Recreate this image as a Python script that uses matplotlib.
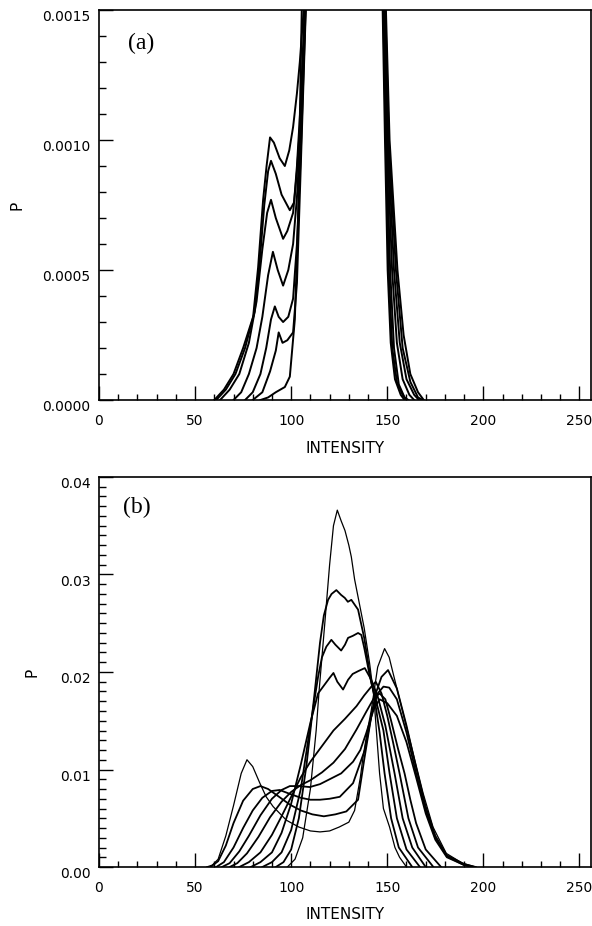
import matplotlib
matplotlib.use('Agg')
import matplotlib.pyplot as plt
from matplotlib.ticker import MultipleLocator, FormatStrFormatter
from matplotlib.transforms import ScaledTranslation

# ---- panel (a): low-probability detail, curves leave the top of the frame ----
a1_x = [60, 65, 70, 75, 80.2, 82.8, 85.4, 87.2, 89, 91, 94, 96.7, 99, 101, 103, 104.5, 106.5, 108,
        146.5, 147.6, 148.8, 150.2, 151.8, 154, 157, 159]
a1_p = [0, 0.00004, 0.0001, 0.0002, 0.00032, 0.00051, 0.00077, 0.0009, 0.00101, 0.00099, 0.00093, 0.0009,
        0.00096, 0.00105, 0.00118, 0.0013, 0.0015, 0.002,
        0.002, 0.0015, 0.001, 0.0005, 0.00022, 0.00008, 0.00002, 0]
a2_x = [61, 66, 71, 76, 81, 83.5, 86, 88, 89.5, 92, 95, 99.3, 101.5, 103, 105, 107, 108.5,
        146.8, 147.9, 149.2, 150.8, 152.6, 155, 158, 160]
a2_p = [0, 0.00004, 0.0001, 0.0002, 0.00034, 0.00052, 0.00075, 0.00088, 0.00092, 0.00087, 0.00079, 0.00073,
        0.00076, 0.0009, 0.00115, 0.0015, 0.002,
        0.002, 0.0015, 0.001, 0.0005, 0.0002, 0.00007, 0.00002, 0]
a3_x = [63, 68, 73, 78, 82, 85, 87.5, 89.5, 92, 95.8, 98, 101, 103, 105, 107.2, 108.5,
        147, 148.2, 149.6, 151.5, 153.5, 156, 159, 161]
a3_p = [0, 0.00004, 0.0001, 0.00022, 0.00038, 0.00058, 0.00072, 0.00077, 0.0007, 0.00062, 0.00065, 0.00072,
        0.00088, 0.0011, 0.0015, 0.002,
        0.002, 0.0015, 0.001, 0.0005, 0.0002, 0.00006, 0.00001, 0]
a4_x = [70, 74, 78, 82, 85, 88, 90.5, 93, 95.8, 98.5, 101, 103, 105, 107.4, 108.5,
        147.2, 148.5, 150, 152.5, 155, 158, 161.5, 164]
a4_p = [0, 0.00003, 0.0001, 0.0002, 0.00032, 0.00048, 0.00057, 0.0005, 0.00044, 0.0005, 0.0006, 0.00078,
        0.00105, 0.0015, 0.002,
        0.002, 0.0015, 0.001, 0.0005, 0.00022, 0.00008, 0.00002, 0]
a5_x = [76, 80, 84, 87, 89.5, 91.5, 93.5, 95.8, 98.5, 101, 103, 105, 107.5, 108.5,
        147.5, 148.8, 150.4, 153.5, 156.5, 160, 164, 166.5]
a5_p = [0, 0.00003, 0.0001, 0.0002, 0.00031, 0.00036, 0.00032, 0.0003, 0.00032, 0.00039, 0.0006, 0.00095,
        0.0015, 0.002,
        0.002, 0.0015, 0.001, 0.0005, 0.00022, 0.00008, 0.00002, 0]
a6_x = [80, 85, 89, 92, 93.5, 95.5, 98, 101, 103, 105, 107.6, 108.6,
        147.8, 149, 150.8, 154.5, 158, 162, 166, 168.5]
a6_p = [0, 0.00003, 0.00011, 0.00019, 0.00026, 0.00022, 0.00023, 0.00026, 0.00045, 0.0009, 0.0015, 0.002,
        0.002, 0.0015, 0.001, 0.0005, 0.0002, 0.00007, 0.00001, 0]
a7_x = [84, 88, 92, 96.7, 99.3, 101.9, 103.6, 104.5, 105.5, 106.5,
        148, 149.3, 151.2, 155.3, 158.5, 162, 166, 169]
a7_p = [0, 0.00001, 0.00003, 0.00005, 0.00009, 0.00031, 0.00069, 0.00108, 0.0015, 0.002,
        0.002, 0.0015, 0.001, 0.0005, 0.00025, 0.0001, 0.00003, 0]

# ---- panel (b): full histograms ----
b1_x = [56, 59, 62, 66, 70, 74, 77, 80, 83.7, 87, 90.6, 97.5, 104, 110, 115, 120, 125, 130, 133, 136,
        137.4, 139.5, 141.7, 145, 148.6, 151, 153, 158.2, 163.4, 168.6, 173.8, 180.7, 189, 196]
b1_p = [0, 0.0002, 0.0008, 0.0032, 0.0063, 0.0096, 0.011, 0.0103, 0.0086, 0.0072, 0.0062, 0.0048, 0.0041,
        0.0037, 0.0036, 0.0037, 0.0041, 0.0046, 0.0058, 0.0092, 0.0113, 0.0138, 0.0161, 0.0205, 0.0224,
        0.0215, 0.0199, 0.0158, 0.0117, 0.0076, 0.0041, 0.0014, 0.0004, 0]
b2_x = [58, 62, 66, 70, 75, 80, 84, 88, 93, 99.3, 105, 111, 117, 123, 128.7, 134.8, 138, 141.7, 144, 147,
        150.4, 155, 160, 165, 170, 175, 181, 190, 196]
b2_p = [0, 0.0006, 0.0022, 0.0045, 0.0068, 0.008, 0.0083, 0.008, 0.0073, 0.0064, 0.0058, 0.0054, 0.0052,
        0.0054, 0.0057, 0.0069, 0.011, 0.0155, 0.0178, 0.0195, 0.0202, 0.0183, 0.0145, 0.0102, 0.0062,
        0.0032, 0.0012, 0.0003, 0]
b3_x = [61, 65, 70, 75, 80, 85, 90, 94, 99.3, 105, 110, 115, 120, 125.3, 132.2, 138.3, 142, 145, 148, 151,
        155, 160, 165, 170, 175, 181, 190, 195]
b3_p = [0, 0.0005, 0.002, 0.004, 0.0058, 0.0071, 0.0078, 0.0079, 0.0075, 0.0071, 0.0069, 0.0069, 0.007,
        0.0072, 0.0086, 0.012, 0.0158, 0.0178, 0.0185, 0.0184, 0.0172, 0.0138, 0.0096, 0.0058, 0.003,
        0.0011, 0.0002, 0]
b4_x = [64, 68, 73, 78, 84, 90, 95, 99.3, 104, 109.7, 115, 121, 126, 132.2, 136, 139, 143, 146, 150, 155,
        160, 165, 170, 175, 181, 190, 194]
b4_p = [0, 0.0004, 0.0016, 0.0032, 0.0053, 0.007, 0.0079, 0.0083, 0.0083, 0.0082, 0.0085, 0.0091, 0.0096,
        0.0108, 0.012, 0.0137, 0.0162, 0.0172, 0.0168, 0.0155, 0.0128, 0.0092, 0.0055, 0.0028, 0.001,
        0.0002, 0]
b5_x = [68, 72, 77, 83, 89, 95, 100, 105, 110, 116, 122, 128, 134, 139, 143, 146, 149, 152, 155.5, 159,
        162, 165, 170, 178]
b5_p = [0, 0.0004, 0.0014, 0.0031, 0.0051, 0.0067, 0.0077, 0.0084, 0.0089, 0.0097, 0.0107, 0.0121, 0.0141,
        0.0159, 0.0173, 0.0178, 0.0172, 0.015, 0.0122, 0.0096, 0.0069, 0.0045, 0.0018, 0]
b6_x = [73, 78, 84, 90, 95, 100, 105, 110, 116, 122, 128, 134, 138, 141.7, 144, 147, 150, 153, 156.4, 159,
        161, 166, 174]
b6_p = [0, 0.0005, 0.0015, 0.0033, 0.0052, 0.0072, 0.0092, 0.0108, 0.0124, 0.014, 0.0152, 0.0165, 0.0176,
        0.0185, 0.019, 0.0178, 0.0155, 0.0128, 0.0096, 0.007, 0.005, 0.002, 0]
b7_x = [79, 84, 90, 95, 100, 105, 110, 114, 117, 120, 122, 124, 127, 129.6, 132, 135, 138.3, 141.7, 145,
        149, 153.8, 158, 163, 170]
b7_p = [0, 0.0005, 0.0015, 0.0035, 0.0065, 0.0105, 0.0148, 0.0178, 0.0186, 0.0194, 0.0199, 0.019, 0.0182,
        0.0192, 0.0198, 0.0201, 0.0204, 0.0192, 0.0175, 0.0145, 0.0096, 0.005, 0.002, 0]
b8_x = [85, 90, 95, 100, 105, 110, 114, 116, 118.3, 120.9, 123, 126, 128, 129.6, 132, 134.8, 136.5, 138,
        141, 144, 148, 151.2, 155, 160, 167]
b8_p = [0, 0.0005, 0.0015, 0.0038, 0.008, 0.0145, 0.0195, 0.0215, 0.0226, 0.0233, 0.0228, 0.0222, 0.0228,
        0.0235, 0.0237, 0.024, 0.0238, 0.0225, 0.0195, 0.0172, 0.014, 0.0096, 0.005, 0.0018, 0]
b9_x = [92, 96, 100, 104, 108, 112, 115, 117, 119.2, 121, 123.5, 126, 127.9, 129.5, 131.3, 134.8, 138,
        141.7, 143, 146, 148.6, 152, 156, 163]
b9_p = [0, 0.0005, 0.0018, 0.005, 0.0105, 0.0175, 0.023, 0.0258, 0.0274, 0.028, 0.0284, 0.0279, 0.0276,
        0.0272, 0.0274, 0.0264, 0.0235, 0.0189, 0.0178, 0.0138, 0.0096, 0.005, 0.002, 0]
b10_x = [98, 102, 106, 110, 113, 114.5, 117.5, 120, 122, 124, 126, 128, 130, 131.3, 133, 134.8, 138, 140.8,
         143, 146, 148, 151.2, 154, 156.4, 160]
b10_p = [0, 0.0008, 0.003, 0.008, 0.014, 0.018, 0.025, 0.031, 0.035, 0.0366, 0.0355, 0.0345, 0.033, 0.0318,
         0.0295, 0.0277, 0.0245, 0.0209, 0.0175, 0.0096, 0.006, 0.0041, 0.002, 0.001, 0]

curves_a = [(a1_x, a1_p), (a2_x, a2_p), (a3_x, a3_p), (a4_x, a4_p), (a5_x, a5_p), (a6_x, a6_p), (a7_x, a7_p)]
curves_b = [(b1_x, b1_p), (b2_x, b2_p), (b3_x, b3_p), (b4_x, b4_p), (b5_x, b5_p),
            (b6_x, b6_p), (b7_x, b7_p), (b8_x, b8_p), (b9_x, b9_p), (b10_x, b10_p)]
# first and last histogram are drawn with a finer pen
thin_b = [0, 9]


def style_axes(ax, ymax, ymajor, yminor, yfmt, ylabel_x, xlabel_y, fig):
    ax.set_xlim(0, 256)
    ax.set_ylim(0, ymax)
    ax.xaxis.set_major_locator(MultipleLocator(50))
    ax.xaxis.set_minor_locator(MultipleLocator(10))
    ax.yaxis.set_major_locator(MultipleLocator(ymajor))
    ax.yaxis.set_minor_locator(MultipleLocator(yminor))
    ax.xaxis.set_major_formatter(FormatStrFormatter('%d'))
    ax.yaxis.set_major_formatter(FormatStrFormatter(yfmt))
    ax.tick_params(which='both', direction='in', top=False, right=False, width=1.0, color='black',
                   labelsize=10)
    ax.tick_params(which='major', length=10)
    ax.tick_params(axis='x', which='minor', length=4)
    ax.tick_params(axis='y', which='minor', length=5)
    ax.tick_params(axis='x', which='major', pad=10)
    ax.tick_params(axis='y', which='major', pad=6)
    for s in ax.spines.values():
        s.set_linewidth(1.2)
    ax.set_xlabel('INTENSITY', fontsize=11)
    ax.xaxis.set_label_coords(0.5, xlabel_y)
    ax.set_ylabel('P', fontsize=11)
    ax.yaxis.set_label_coords(ylabel_x, 0.5)
    # tick labels sit a little below their ticks in the original
    shift = ScaledTranslation(0, -4 / 72, fig.dpi_scale_trans)
    for lab in ax.get_yticklabels():
        lab.set_transform(lab.get_transform() + shift)


fig = plt.figure(figsize=(5.92, 9.26), dpi=100)
ax_a = fig.add_axes([0.1672, 0.568, 0.8311, 0.4212])
ax_b = fig.add_axes([0.1672, 0.0637, 0.8311, 0.4212])

for x, p in curves_a:
    ax_a.plot(x, p, color='black', lw=1.4)
style_axes(ax_a, 0.0015, 0.0005, 0.0001, '%.4f', -0.152, -0.106, fig)
ax_a.text(0.059, 0.915, '(a)', transform=ax_a.transAxes, fontsize=17, family='Liberation Serif',
          va='center', ha='left')

for i, (x, p) in enumerate(curves_b):
    ax_b.plot(x, p, color='black', lw=0.9 if i in thin_b else 1.3)
style_axes(ax_b, 0.04, 0.01, 0.001, '%.2f', -0.120, -0.102, fig)
ax_b.text(0.049, 0.923, '(b)', transform=ax_b.transAxes, fontsize=17, family='Liberation Serif',
          va='center', ha='left')

fig.savefig('out.png', dpi=100)
